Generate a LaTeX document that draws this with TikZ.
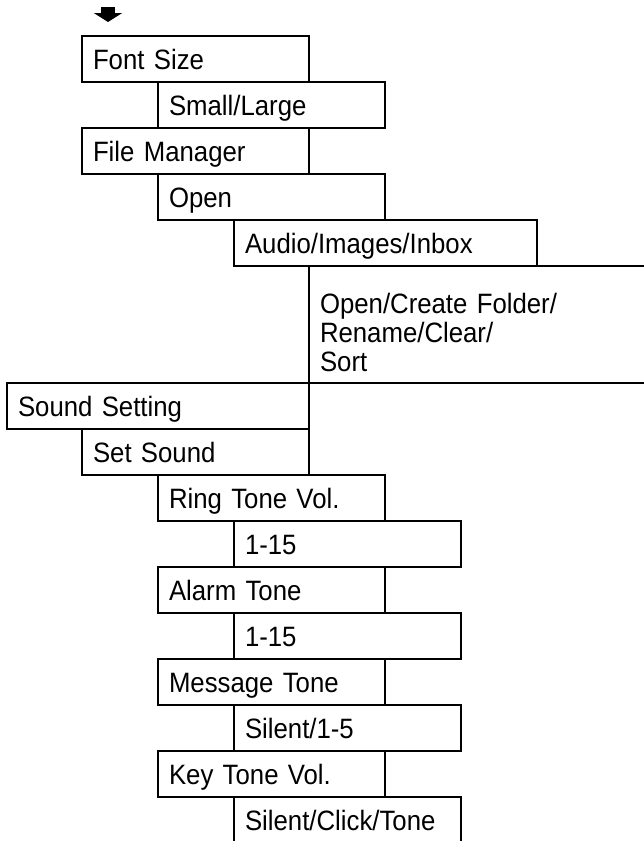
\documentclass[tikz,border=0pt]{standalone}
\usepackage{fontspec}
\setmainfont{Liberation Sans}[FakeStretch=0.92]
\usetikzlibrary{arrows.meta}

\newcommand{\menufont}{\fontsize{28}{29}\selectfont}

\begin{document}
\begin{tikzpicture}[
    x=1pt, y=-1pt,
    every node/.style={font=\menufont},
    entry/.style={draw, line width=1.3pt, outer sep=0pt, anchor=north west,
      inner xsep=11pt, inner ysep=0pt, text width=205pt, align=left,
      minimum height=46pt, text height=20pt, text depth=0pt},
    wide/.style={entry, text width=281pt},
    multi/.style={entry, text width=378pt, minimum height=117pt, text depth=43pt},
    pointer/.style={line width=14pt, -{Triangle[width=28pt, length=9pt]}}
]
\useasboundingbox (0,0) rectangle (644,841);
\clip (0,0) rectangle (644,841);

% entry arrow
\coordinate (ptrtop) at (108,7);
\coordinate (ptrtip) at (108,22);
\draw[pointer] (ptrtop) -- (ptrtip);

% display / files
\node[entry] (fontsize) at (82,36) {Font Size};
\node[entry] (fsvalue) at (158,82) {Small/Large};
\node[entry] (filemgr) at (82,128) {File Manager};
\node[entry] (fmopen) at (158,174) {Open};
\node[wide] (fmfolders) at (234,220) {Audio/Images/Inbox};
\node[multi] (fmactions) at (309,266) {Open/Create Folder/\\Rename/Clear/\\Sort};

% sound
\node[wide, text width=280pt] (sound) at (7,383) {Sound Setting};
\node[entry] (setsound) at (82,429) {Set Sound};
\node[entry] (ringvol) at (158,475) {Ring Tone Vol.};
\node[entry] (ringval) at (234,521) {1-15};
\node[entry] (alarm) at (158,567) {Alarm Tone};
\node[entry] (alarmval) at (234,613) {1-15};
\node[entry] (msgtone) at (158,659) {Message Tone};
\node[entry] (msgval) at (234,705) {Silent/1-5};
\node[entry] (keyvol) at (158,751) {Key Tone Vol.};
\node[entry] (keyval) at (234,797) {Silent/Click/Tone};
\end{tikzpicture}
\end{document}
